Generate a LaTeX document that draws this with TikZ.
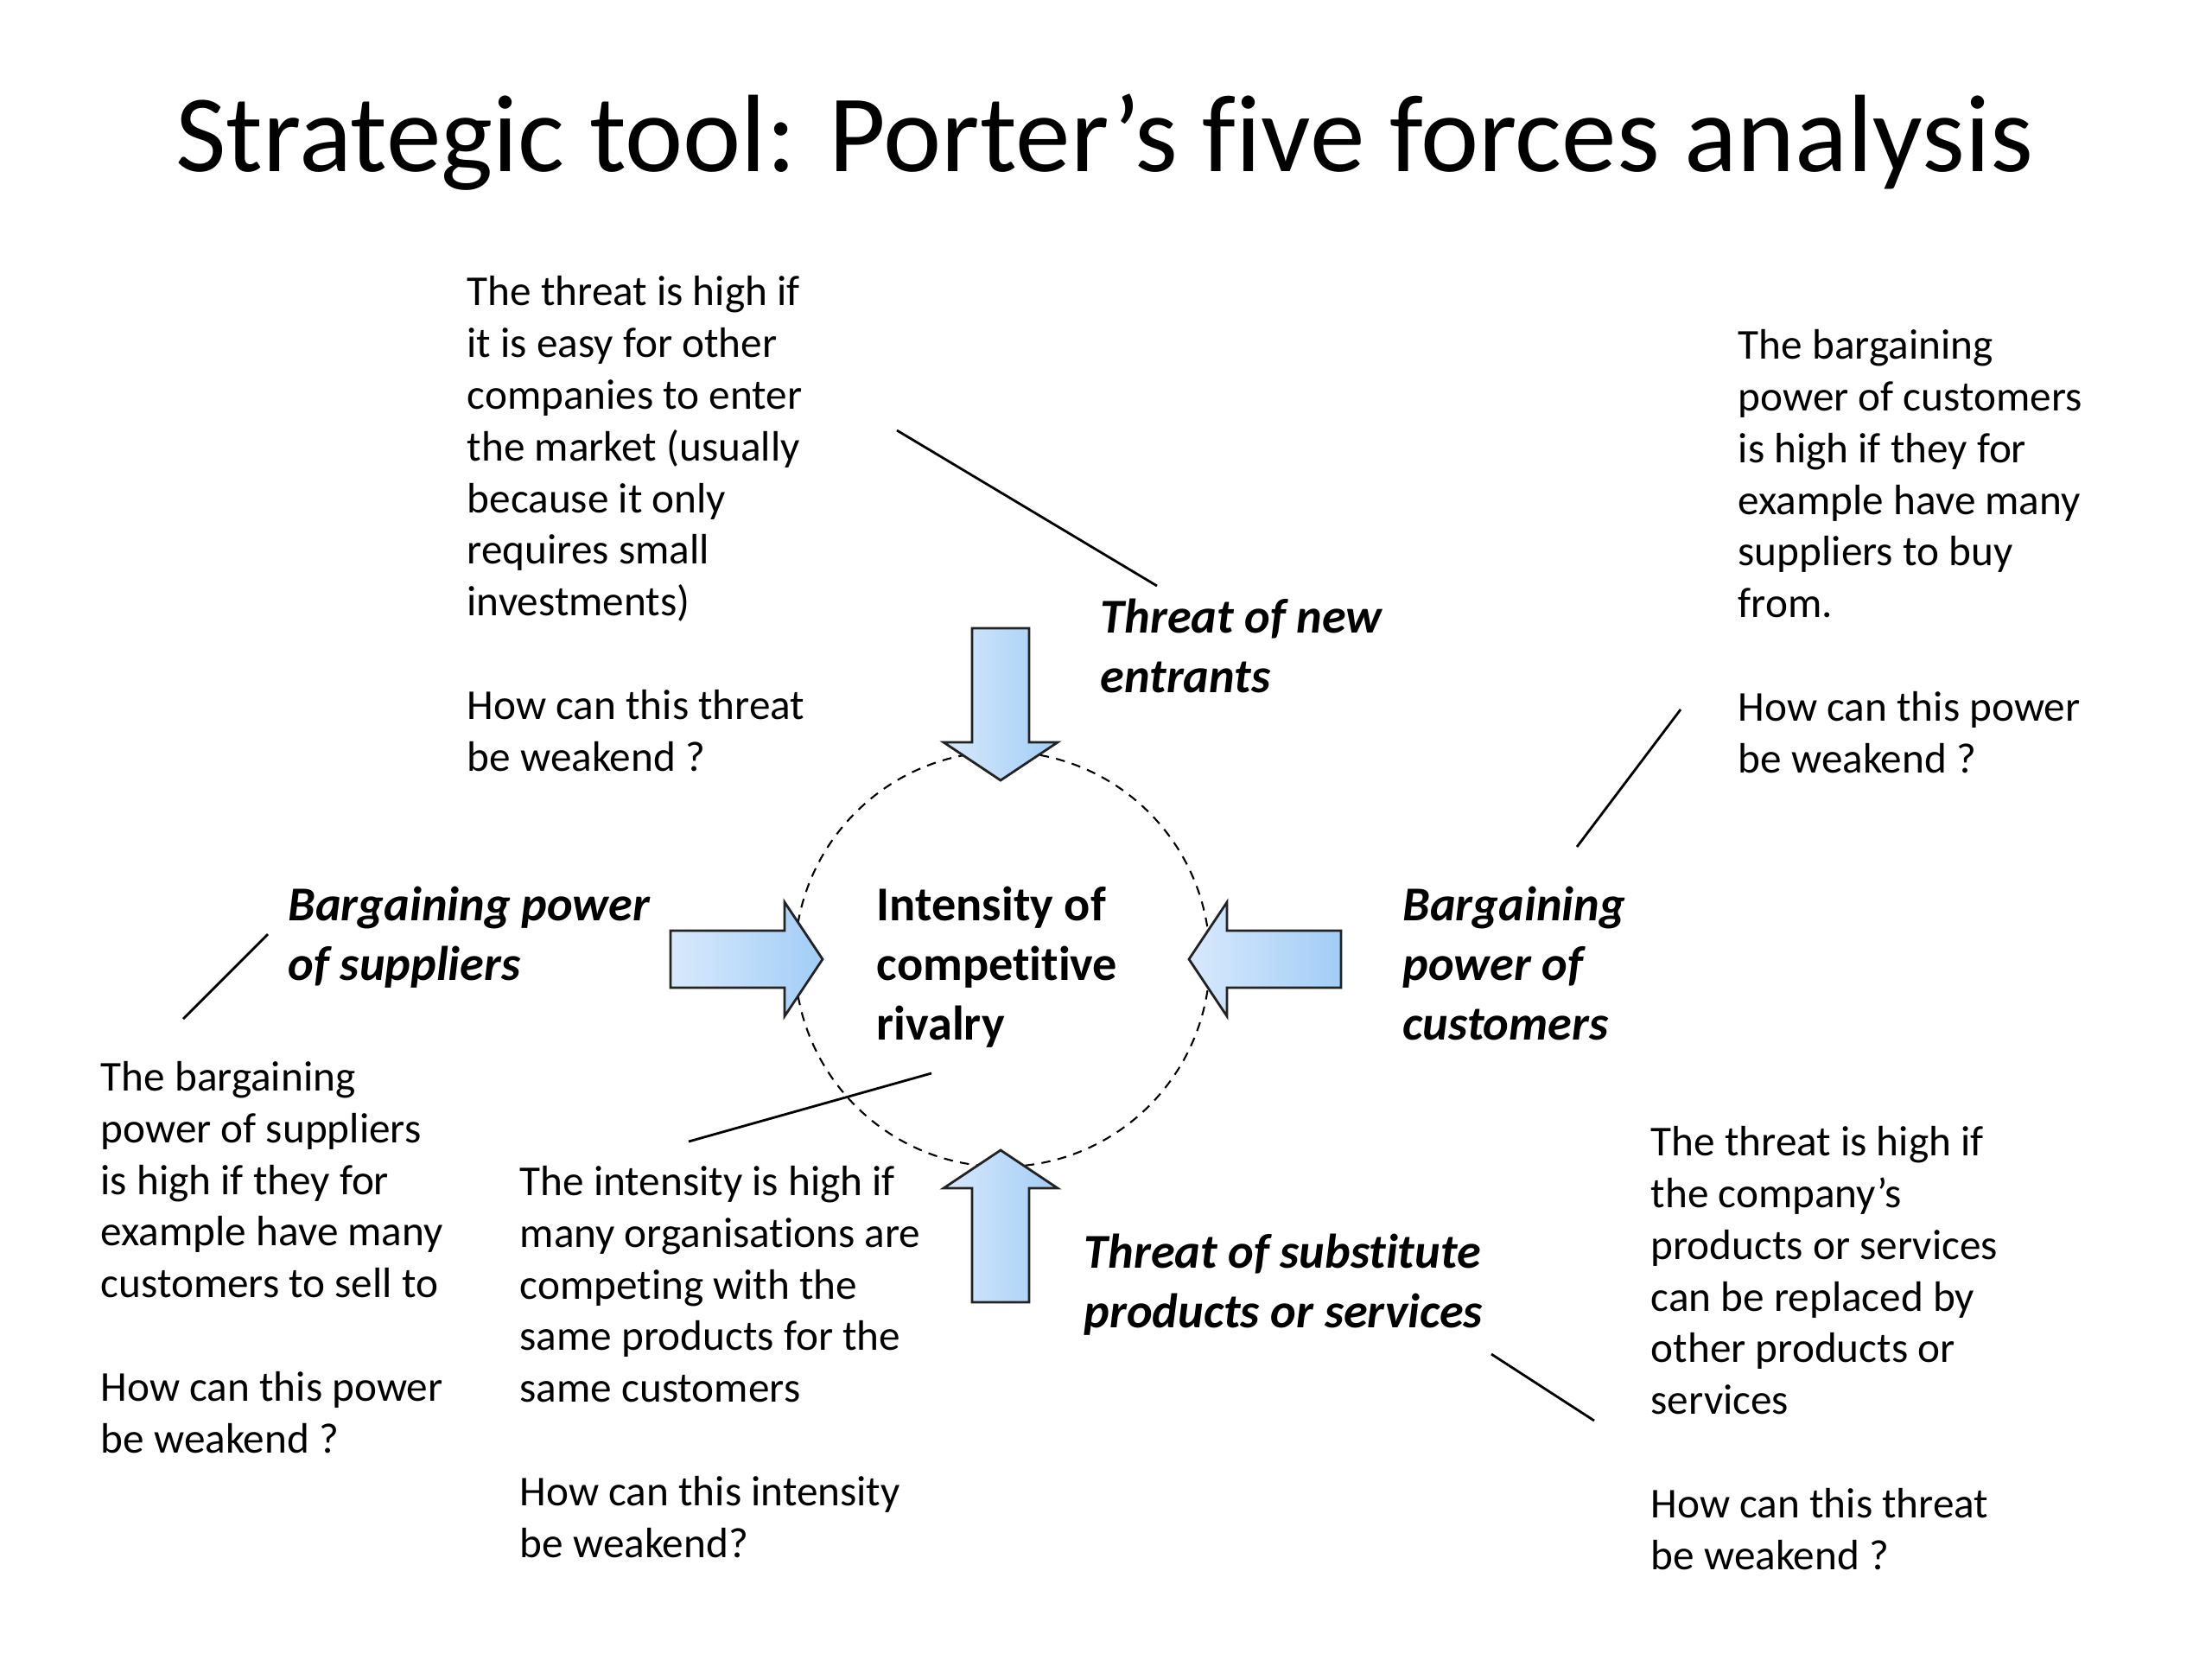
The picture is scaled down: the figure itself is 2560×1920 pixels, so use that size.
\documentclass[tikz,border=0pt]{standalone}
\usepackage{fontspec}
\setmainfont{Carlito}[Ligatures={TeX,NoCommon}]
\usetikzlibrary{positioning}
\definecolor{fcedge}{RGB}{35,35,35}
\definecolor{fclight}{RGB}{216,233,252}
\definecolor{fcdark}{RGB}{162,205,246}
\tikzset{
  note/.style={anchor=base west, align=left, inner sep=0pt,
    font=\fontsize{14pt}{17pt}\selectfont},
  forcelbl/.style={anchor=base west, align=left, inner sep=0pt,
    font=\fontsize{16pt}{19.5pt}\selectfont\bfseries\itshape},
  corelbl/.style={forcelbl, font=\fontsize{16pt}{19.5pt}\selectfont\bfseries},
  farrow/.style={draw=fcedge, line width=0.8pt, line join=miter,
    left color=fclight, right color=fcdark},
  ptr/.style={draw=black, line width=0.8pt},
  ring/.style={draw=black, line width=0.6pt, dash pattern=on 3pt off 2.4pt}
}
% one block arrow, tip at #1, turned by #2
\newcommand{\forcearrow}[2]{%
  \draw[farrow, shift={#1}, rotate=#2]
    (0,0) -- (-44,66) -- (-44,33) -- (-176,33) -- (-176,-33)
    -- (-44,-33) -- (-44,-66) -- cycle;}

\begin{document}
\begin{tikzpicture}[x=0.01cm, y=-0.01cm]
  \fill[white] (0,0) rectangle (2560,1920);
  \useasboundingbox (0,0) rectangle (2560,1920);

  % title
  \node[anchor=base, inner sep=0pt, font=\fontsize{36.2pt}{42pt}\selectfont] (title)
    at (1278,198) {Strategic tool: Porter's five forces analysis};

  % rivalry ring and the four forces
  \node[ring, circle, inner sep=0pt, minimum size=4.8cm] (ring) at (1160,1110) {};
  \forcearrow{(1158,903)}{-90}
  \forcearrow{(1158,1331)}{90}
  \forcearrow{(952,1110)}{0}
  \forcearrow{(1376,1110)}{180}

  % labels (anchored on their last line)
  \node[corelbl] (rivalry) at (1014,1203) {Intensity of\\competitive\\rivalry};
  \node[forcelbl] (entrants) at (1273,801) {Threat of new\\entrants};
  \node[forcelbl] (suppliers) at (333,1134) {Bargaining power\\of suppliers};
  \node[forcelbl] (customers) at (1623,1203) {Bargaining\\power of\\customers};
  \node[forcelbl] (substitutes) at (1254,1536) {Threat of substitute\\products or services};

  % notes
  \node[note] (entrantsnote) at (540,892)
    {The threat is high if\\it is easy for other\\companies to enter\\the market (usually\\because it only\\requires small\\investments)\\[17pt]How can this threat\\be weakend ?};
  \node[note] (customersnote) at (2011,894)
    {The bargaining\\power of customers\\is high if they for\\example have many\\suppliers to buy\\from.\\[17pt]How can this power\\be weakend ?};
  \node[note] (suppliersnote) at (116,1681)
    {The bargaining\\power of suppliers\\is high if they for\\example have many\\customers to sell to\\[17pt]How can this power\\be weakend ?};
  \node[note] (rivalrynote) at (601,1802)
    {The intensity is high if\\many organisations are\\competing with the\\same products for the\\same customers\\[17pt]How can this intensity\\be weakend?};
  \node[note] (substitutesnote) at (1910,1816)
    {The threat is high if\\the company's\\products or services\\can be replaced by\\other products or\\services\\[17pt]How can this threat\\be weakend ?};

  % pointer lines
  \coordinate (entA) at (1038,498);
  \coordinate (entB) at (1339,678);
  \coordinate (cusA) at (1945,821);
  \coordinate (cusB) at (1825,980);
  \coordinate (supA) at (310,1081);
  \coordinate (supB) at (212,1179);
  \coordinate (rivA) at (1078,1242);
  \coordinate (rivB) at (797,1321);
  \coordinate (subA) at (1726,1567);
  \coordinate (subB) at (1845,1644);
  \draw[ptr] (entA) -- (entB);
  \draw[ptr] (cusA) -- (cusB);
  \draw[ptr] (supA) -- (supB);
  \draw[ptr] (rivA) -- (rivB);
  \draw[ptr] (subA) -- (subB);
\end{tikzpicture}
\end{document}
